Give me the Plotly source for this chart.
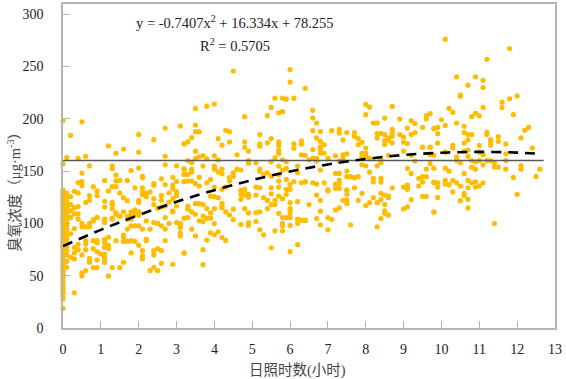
import plotly.graph_objects as go

zero_hours_ozone = [18.7,27.6,30,33,36,38,41,43,45,48,50,52,54,56,58,60,62,64,66,68,70,72,74,76,78,80,82,84,86,88,90,92,94,96,98,100,102,104,106,108,110,112,114,116,118,120,122,124,126,128,130,132,157,198]
tenth_hour_ozone = [58,63.7,70,74,78,82,86,90,94,98,102,105,109,112,115,118,121,125.5,129,163]

obs_0_1 = [(0.2,184),(0.5,197),(0.4,162),(0.6,164),(0.7,155),(0.5,148),(0.4,139),(0.5,140),(0.5,136),(0.8,135),(0.3,130.5),(0.4,129),(0.9,131),(0.9,126.4),(0.2,125.5),(0.7,126.4),(0.7,122),(0.6,120),(0.4,116),(0.3,115),(0.3,109),(0.4,109),(0.9,105.8),(0.8,103.6),(0.4,104),(0.2,105.5),(0.2,112),(0.2,118),(0.3,33.6),(0.5,49.8),(0.5,52.6),(0.6,54.9),(0.8,57.7),(0.9,57.7),(0.7,62.8),(0.7,65),(0.7,66.6),(0.9,65),(0.3,66),(0.2,67.5),(0.5,69.8),(0.6,74.8),(0.8,75.8),(0.9,73),(0.3,71.7),(0.3,77),(0.4,74.8),(0.8,83.4),(0.9,83.4),(0.9,81.2),(0.6,83.4),(0.6,80.2),(0.4,80),(0.5,99.9),(0.5,96.7),(0.6,96.7),(0.7,99.9),(0.7,96.7),(0.8,102.4),(0.9,105.6),(0.2,90),(0.3,95)]
obs_1_2 = [(1.2,174),(1.4,167),(1.6,171),(1.3,155),(1.3,152.4),(1.8,150.5),(1.4,146),(1.1,141),(1.4,140.5),(1.5,141),(1.7,141),(1.3,135),(1.4,135),(1.9,134),(1.2,131),(1.5,129),(1.6,124.5),(1.7,121.7),(1.1,121),(1.1,115.6),(1.3,120),(1.3,118),(1.3,114),(1.4,110.3),(1.6,111),(1.9,113),(1.8,111),(1.7,106.8),(1.8,106.8),(1.9,108.7),(1.5,106.8),(1.3,105),(1.1,104),(1.2,49.8),(1.3,57.7),(1.5,57.7),(1.6,62.8),(1.1,62.8),(1.1,65),(1.1,67.5),(1.1,70.7),(1,70.7),(1.1,77),(1.2,75.8),(1.2,78.9),(1.1,81.8),(1.1,84.6),(1.2,86.9),(1.4,83.4),(1.6,88.8),(1.6,86.6),(1.6,82.7),(1.7,82.7),(1.8,83.4),(1.9,82.7),(1.8,71.7),(1.1,100.8),(1.3,104),(1.4,108.7),(1.5,107),(1.8,108),(1.9,109.4),(1.8,104),(1.7,104),(1.8,97.6),(1.9,97.6),(1.7,94.5)]
obs_2_3 = [(2.7,191),(2.0,185),(2.4,180),(2.0,168),(2.7,164),(2.0,153),(2.7,156),(2.1,145),(2.1,143.5),(2.4,138),(2.4,136.5),(2.7,137),(2.6,142.6),(2.9,144),(2.9,136.6),(2.9,133),(2.1,134),(2.1,130),(2.2,129),(2.3,130),(2.2,125.5),(2.1,127.4),(2.8,129),(2.6,126.7),(2.6,122),(2.4,123.6),(2.4,118),(2,122),(2,120),(2.8,120.4),(2.9,123.6),(2.9,112),(2.7,116.6),(2.6,115.6),(2.5,114.4),(2.0,110),(2,107.7),(2,79),(2.1,73.9),(2.1,69),(2.1,66),(2.2,85),(2.2,83.4),(2.4,73.9),(2.4,69.8),(2.5,75.8),(2.6,73.9),(2.6,61.8),(2.4,58),(2.5,54.9),(2.3,54.9),(2.9,60.9),(2.7,83.4),(2,111),(2,97.6),(2.1,94.5),(2.3,94.5),(2.2,102.4),(2.4,100.8),(2.5,99.9),(2.6,97.6),(2.7,94.5),(2.8,99.9),(2.7,105.6),(2.9,111)]
obs_3_4 = [(3.1,193),(3.2,176),(3.0,155),(3.2,152),(3.2,147),(3.0,140),(3.2,140),(3,130),(3,126.7),(3.0,116.6),(3.2,71.7),(3,100.8),(3.1,99),(3.1,96.7),(3.1,91),(3.1,88),(3.5,209.8),(3.8,212),(3.5,194),(3.5,187.6),(3.6,187.6),(3.4,182),(3.3,177.8),(3.2,176),(3.5,169),(3.6,163.6),(3.7,164.8),(3.5,162),(3.3,160),(3.4,157.9),(3.8,161.7),(3.7,154.7),(3.4,151.8),(3.2,151.8),(3.4,149),(3.2,146.7),(3.3,146.7),(3.6,144),(3.2,139.8),(3.3,140.4),(3.4,140.4),(3.5,137.9),(3.6,135.6),(3.8,138.8),(3.9,142),(3.9,126),(3.5,118.8),(3.6,118.8),(3.7,118),(3.3,116.6),(3.3,113.5),(3.4,111),(3.5,108.7),(3.2,104.9),(3.3,105.5),(3.8,114),(3.7,107),(3.9,110),(3.8,104.9),(3.9,104.9),(3.6,102.4),(3.7,101.7),(3.1,99.8),(3.1,96),(3.4,94.4),(3.5,87.8),(3.9,91),(3.8,84),(3.2,71.6),(3.7,74.8),(3.7,60.5)]
obs_4_5 = [(4,214),(4.5,245.6),(4.8,201.9),(4.3,188.9),(4.4,187.6),(4.1,181),(4.2,174.7),(4.4,177.8),(4.8,177.8),(4.8,172.7),(4.9,169),(4.6,165.5),(4,164.5),(4.1,160.7),(4.9,160),(4.9,157.5),(4,154.7),(4,151.8),(4.2,151.8),(4.6,151.8),(4.7,151),(4.1,149),(4.2,147.4),(4,134.7),(4.2,132.5),(4.3,134.7),(4.4,140.4),(4.4,143.6),(4.5,148.3),(4.5,145.1),(4.9,157.8),(4.4,108),(4.5,103.6),(4.5,113.5),(4.3,111),(4.2,119),(4.2,116.6),(4.2,115),(4,114),(4,99.8),(4.7,123),(4.7,131.5),(4.8,132.5),(4.8,129.3),(4.8,127),(4.7,127.7),(4.9,127.7),(4.9,125),(4,125.5),(4.1,124.5),(4.9,110),(4.8,114),(4.9,100.8),(4.9,98),(4.7,99),(4,89),(4.1,91.9),(4.2,86.5),(4.3,83.7)]
obs_5_6 = [(5.2,184.8),(5.2,176),(5.2,173.7),(5.4,176.9),(5.5,181),(5.7,177.8),(5.7,174.7),(5.7,170),(5.7,166.7),(5.6,219.6),(5.8,219.6),(5.9,218.7),(5.5,210.8),(5.4,203),(5.7,205.7),(5.8,206.7),(5.1,157.9),(5.5,158.8),(5.6,162.6),(5.8,160.7),(5.9,158.8),(5.7,154.7),(5.9,152.5),(5.8,151),(5.2,151.8),(5.2,149.9),(5.3,146.7),(5.4,148.3),(5.5,145.1),(5.7,146.7),(5.7,140.4),(5.9,142),(5.1,134.7),(5.2,134),(5.5,134),(5.5,128.3),(5.1,127),(5.3,124.5),(5.4,122),(5.6,122),(5.8,123.6),(5.6,118),(5.5,118),(5.4,114),(5.7,109.6),(5.7,134.7),(5.7,126),(5.9,132.5),(5.9,127.7),(5.8,105.5),(5.9,105.5),(5.8,100),(5.8,97.6),(5.8,92.9),(5.6,92.9),(5.3,89),(5.2,93.8),(5.1,101.7),(5.1,110.3),(5.2,111),(5.5,76.7)]
obs_6_7 = [(6,247),(6,235),(6.4,229),(6.1,219.6),(6.6,208),(6.6,200.6),(6.7,195.9),(6.6,188.6),(6.8,187.7),(6.1,176),(6.1,171.8),(6.3,178.8),(6.3,175.6),(6.3,165.5),(6.5,160.7),(6.2,154.7),(6.7,181.6),(6.8,178.5),(6.9,175),(6.8,173),(6.8,170.5),(6.8,167),(6.9,167),(6.6,170.5),(6.4,165),(6.6,162),(6.7,162),(6.7,159.5),(6.8,151),(6.4,139.5),(6.6,138.8),(6.7,137.6),(6.9,138.8),(6.2,148.3),(6,137.2),(6.1,139.8),(6.3,138.8),(6.4,139.8),(6,132.5),(6,119.8),(6.2,120.7),(6.5,118),(6,114),(6,111.9),(6,109.3),(6,105.5),(6.2,104),(6.3,103),(6.4,103),(6.2,100),(6,98),(6,72.9),(6.2,79.6),(6.7,127),(6.8,122),(6.8,111.6),(6.7,104.6),(6.4,102.7),(6.8,98.6)]
obs_7_8 = [(7.1,188.6),(7.3,189.9),(7.3,186.4),(7.5,186.7),(7.7,186.7),(7.7,183.2),(7.8,181),(7.9,177.5),(7.8,175),(7.4,179.7),(7.4,165.5),(7.5,166.4),(7.4,162),(7.2,164.5),(7,162),(7.3,159.5),(7.9,167),(7.9,164),(7.9,156),(7.2,147.7),(7.3,147.7),(7.5,150),(7.5,144.6),(7.6,144.6),(7.7,143.6),(7.8,144.6),(7.3,141),(7.2,137.6),(7.3,138),(7,132),(7.2,133.5),(7.3,133.5),(7.5,132),(7.7,134),(7.5,131.5),(7.5,127.7),(7.5,122.3),(7.5,119),(7.4,122),(7,131),(7.2,112.8),(7.3,114.7),(7,105.5),(7.1,103.6),(7,93.8),(7.6,98.6),(7.8,122),(7.9,128.7)]
obs_8_9 = [(8,213.6),(8.1,211),(8,203.8),(8.7,211.7),(8.5,200.6),(8.9,199.7),(8.2,195.9),(8.3,195.9),(8.3,185.8),(8.3,181.6),(8.4,185.8),(8.5,184.8),(8.7,189.9),(8.7,186.4),(8.7,183.2),(8.6,181.6),(8.6,179.4),(8.5,179),(8.5,175.3),(8.7,176.9),(8.9,184.8),(8,172),(8,167),(8,164),(8.1,162),(8,155),(8.3,155),(8.4,161),(8.4,158),(8.6,165),(8.1,149),(8.2,143),(8.2,139.5),(8.4,143),(8.4,139.5),(8.7,134),(8,117),(8.1,119.8),(8.2,124.5),(8.3,119.8),(8.4,128.7),(8.4,122.6),(8.5,127),(8.6,126),(8.6,124.5),(8.5,118),(8.5,111.9),(8.5,109.6),(8.6,107.8),(8.4,104.6),(8.3,96.7)]
obs_9_10 = [(9,182.6),(9,177.5),(9.1,176.2),(9.1,191),(9.2,198),(9.3,195.3),(9.2,184.8),(9.3,186.7),(9.5,191.8),(9.6,202.9),(9.6,199.7),(9.7,204.8),(9.8,190.8),(9.5,172.8),(9.7,172.8),(9,169),(9.2,165),(9.3,159.5),(9.7,165.8),(9.7,157),(9.8,165),(9.1,152.5),(9.2,147.7),(9.6,151.9),(9.4,143),(9.5,144.6),(9.6,144.6),(9.5,139.5),(9.4,135.7),(9.8,139.5),(9,134.7),(9.1,134.7),(9.1,136.6),(9.1,132.5),(9.2,122.6),(9.5,125.8),(9.6,125.8),(9,113.8),(9.1,115.7),(9.8,110.6),(10,199),(9.9,191.7),(9.8,190.5),(9.9,185.7),(9.9,176.8),(9.7,172.7),(9.8,152.7),(9.8,138.8),(9.9,138.8),(9.9,134.7),(9.9,124.8),(9.8,110.9)]
obs_10_11 = [(10.1,276),(10.4,240),(10.9,240),(10.7,232),(10.5,222.8),(10.5,221.5),(10.2,209.8),(10.3,206),(10.9,205),(10.8,201.9),(11,202.8),(10.4,195.9),(10.1,193.6),(10.6,192.7),(10.6,186.7),(10.7,184.8),(10.8,184.8),(10.7,179.7),(11,174.6),(10.6,176.8),(10.3,174.6),(10.3,172),(10.1,168),(10.6,169),(10.7,170),(10.7,164),(11,168),(10.4,163.5),(10.4,160),(10.5,157.8),(10.8,160),(10.9,158.8),(11,160),(10.8,153.7),(10.9,151.8),(10.1,152.7),(10.2,149.9),(10.6,147.7),(10.1,141),(10.1,137.5),(10.2,137),(10.3,141),(10.4,138.8),(10.5,135.6),(10.7,141),(10.8,138.8),(10.9,139.7),(10.9,134.7),(11,135.6),(10.7,134),(10.3,130),(10.6,128.6),(10.6,126.7),(10.5,121.7),(10.7,123),(10.7,114.7)]
obs_11_13 = [(11.8,267),(11.2,256.7),(11.1,236.7),(11.1,229.8),(11.8,219),(12,221.8),(11.6,215.8),(11.6,210.8),(11.1,210.8),(11.9,203.8),(11.2,187),(11.2,184.8),(11.5,182.9),(11.3,180),(11.5,178.4),(12.2,188.9),(12.3,191.7),(12.1,181.6),(11.3,177.8),(11.3,174.6),(11.7,175.9),(12.4,172),(11.1,165.7),(11.7,166.4),(11.2,160),(11.3,160),(11.4,157.8),(11.7,160),(11.1,155.9),(11.4,153.7),(11.5,153.7),(11.7,151.8),(12.1,155.3),(12.1,151.8),(12.6,151.8),(11.9,143.9),(12.5,144.8),(11.1,138.8),(12,127.7),(11.4,99.8)]

all_observations = (obs_0_1 + obs_1_2 + obs_2_3 + obs_3_4 + obs_4_5 + obs_5_6
                    + obs_6_7 + obs_7_8 + obs_8_9 + obs_9_10 + obs_10_11 + obs_11_13)
sunshine_hours = [0] * len(zero_hours_ozone) + [0.1] * len(tenth_hour_ozone) + [p[0] for p in all_observations]
ozone = zero_hours_ozone + tenth_hour_ozone + [p[1] for p in all_observations]

trend_hours = [0, 1, 2, 3, 4, 5, 6, 7, 8, 9, 10, 11, 12, 12.6]
trend_ozone = [78.3, 93.8, 107.9, 120.6, 131.7, 141.4, 149.6, 156.3, 161.5, 165.3, 167.5, 168.3, 167.6, 166.5]
limit_hours = [0, 12.7]
limit_ozone = [160, 160]

x_ticks = list(range(0, 14))
y_ticks = list(range(0, 301, 50))
FONT = "Liberation Serif"
CJK = "Liberation Serif, Noto Sans CJK SC"
AXIS = "#b4b4b4"
PLOT_W = 493
PLOT_H = 325.7


def paper_x(px):
    return (px - 62.5) / PLOT_W


def paper_y(py):
    return 1 - (py - 2) / PLOT_H


fig = go.Figure()
fig.add_trace(go.Scatter(x=sunshine_hours, y=ozone, mode="markers", cliponaxis=False,
                         marker=dict(color="#FFBC00", size=5.2, line=dict(width=0))))
fig.add_trace(go.Scatter(x=limit_hours, y=limit_ozone, mode="lines",
                         line=dict(color="#595959", width=1.6)))
fig.add_trace(go.Scatter(x=trend_hours, y=trend_ozone, mode="lines",
                         line=dict(color="#000000", width=2.6, dash="10px,7px", shape="spline")))

axis_common = dict(showgrid=False, zeroline=False, showline=True, mirror=True, linecolor=AXIS, linewidth=1.6,
                   ticks="inside", ticklen=7, tickwidth=1, tickcolor=AXIS,
                   tickfont=dict(family=FONT, size=14, color="#222222"))
label_font = dict(family=FONT, size=14.5, color="#222222")
title_font = dict(family=CJK, size=14.5, color="#444444")
fig.update_layout(
    width=566, height=379, autosize=False, showlegend=False,
    paper_bgcolor="white", plot_bgcolor="white",
    margin=dict(l=62.5, r=10.5, t=2, b=51.3),
    font=dict(family=FONT, color="#222222"),
    xaxis=dict(range=[0, 13], tickvals=x_ticks, ticklabelstandoff=7, **axis_common),
    yaxis=dict(range=[0, 309.6], tickvals=y_ticks, ticklabelstandoff=15, **axis_common),
    annotations=[
        dict(text="y = -0.7407x<sup>2</sup> + 16.334x + 78.255", xref="paper", yref="paper",
             x=paper_x(235), y=paper_y(20), showarrow=False, xanchor="center", yanchor="middle", font=label_font),
        dict(text="R<sup>2</sup> = 0.5705", xref="paper", yref="paper",
             x=paper_x(235), y=paper_y(43), showarrow=False, xanchor="center", yanchor="middle", font=label_font),
        dict(text="日照时数(小时)", xref="paper", yref="paper",
             x=paper_x(297), y=paper_y(370), showarrow=False, xanchor="center", yanchor="middle", font=title_font),
        dict(text="臭氧浓度（μg·m<sup>-3</sup>）", xref="paper", yref="paper", textangle=-90,
             x=paper_x(13), y=paper_y(187), showarrow=False, xanchor="center", yanchor="middle", font=title_font),
    ],
)
fig.write_html("out.html", config={"displayModeBar": False},
               post_script="document.body.style.margin='0';window.dispatchEvent(new Event('resize'));")
